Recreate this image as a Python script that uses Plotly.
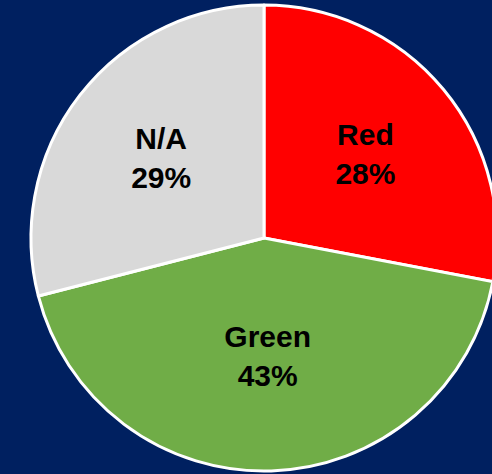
import plotly.graph_objects as go

# Share of items by status
labels = ["Red", "Green", "N/A"]
values = [28, 43, 29]
colors = ["#FF0000", "#70AD47", "#D9D9D9"]

BG = "#002060"
W, H = 500, 474

fig = go.Figure(
    go.Pie(
        labels=labels,
        values=values,
        sort=False,
        direction="clockwise",
        rotation=0,
        marker=dict(colors=colors, line=dict(color="white", width=3)),
        texttemplate="%{label}<br>%{percent:.0%}",
        textposition="inside",
        insidetextorientation="horizontal",
        textfont=dict(family="Liberation Sans, Arial", size=30, color="black", weight="bold"),
        hoverinfo="label+percent",
        domain=dict(x=[31 / W, 497 / W], y=[3 / H, 469 / H]),
        showlegend=False,
    )
)

fig.update_layout(
    width=W,
    height=H,
    margin=dict(l=0, r=0, t=0, b=0),
    paper_bgcolor=BG,
    plot_bgcolor=BG,
)

fig.write_html(
    "out.html",
    post_script="document.documentElement.style.overflow='hidden';document.body.style.overflow='hidden';document.body.style.margin='0';",
)
